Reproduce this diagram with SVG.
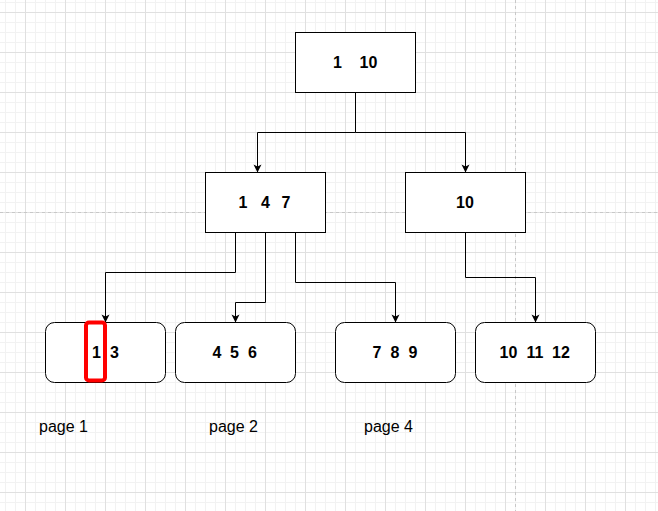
<svg xmlns="http://www.w3.org/2000/svg" width="658" height="511" viewBox="0 0 658 511">
<style>
.node{fill:#ffffff;stroke:#000000;stroke-width:1}
.t{font-family:"Liberation Sans",Arial,Helvetica,sans-serif;font-size:16px;font-weight:bold;fill:#000000;text-anchor:middle}
.lbl{font-family:"Liberation Sans",Arial,Helvetica,sans-serif;font-size:16px;fill:#000000}
.edge{fill:none;stroke:#000000;stroke-width:1}
.page{stroke:#c8c8c8;stroke-width:1;stroke-dasharray:3 3;fill:none}
</style>
<defs>
<pattern id="minor" patternUnits="userSpaceOnUse" x="5" y="2" width="10" height="10">
<path d="M0.5 0V10M0 0.5H10" stroke="#f2f2f2" stroke-width="1" fill="none"/>
</pattern>
<pattern id="major" patternUnits="userSpaceOnUse" x="25" y="12" width="40" height="40">
<path d="M0.5 0V40M0 0.5H40" stroke="#e0e0e0" stroke-width="1" fill="none"/>
</pattern>
<marker id="arr" markerUnits="userSpaceOnUse" markerWidth="10" markerHeight="10" viewBox="0 0 10 10" refX="9" refY="5" orient="auto">
<path d="M1,1 L9,5 L1,9 L3,5 z" fill="#000000"/>
</marker>
</defs>
<rect width="658" height="511" fill="#ffffff"/>
<rect width="658" height="511" fill="url(#minor)"/>
<rect width="658" height="511" fill="url(#major)"/>
<path class="page" d="M0 212.5H658M515.5 0V511"/>
<g id="connectors">
<path class="edge" d="M355.5 92.5V132.5H257.5V172.5" marker-end="url(#arr)"/>
<path class="edge" d="M355.5 132.5H465.5V172.5" marker-end="url(#arr)"/>
<path class="edge" d="M235.5 232.5V272.5H105.5V322.5" marker-end="url(#arr)"/>
<path class="edge" d="M265.5 232.5V302.5H235.5V322.5" marker-end="url(#arr)"/>
<path class="edge" d="M295.5 232.5V282.5H395.5V322.5" marker-end="url(#arr)"/>
<path class="edge" d="M465.5 232.5V277.5H535.5V322.5" marker-end="url(#arr)"/>
</g>
<g id="root">
<rect class="node" x="295.5" y="32.5" width="120" height="60"/>
<text class="t" y="68"><tspan x="337.5">1</tspan><tspan x="368.5">10</tspan></text>
</g>
<g id="mid-left">
<rect class="node" x="205.5" y="172.5" width="120" height="60"/>
<text class="t" y="208"><tspan x="243">1</tspan><tspan x="265.5">4</tspan><tspan x="286">7</tspan></text>
</g>
<g id="mid-right">
<rect class="node" x="405.5" y="172.5" width="120" height="60"/>
<text class="t" y="208"><tspan x="465">10</tspan></text>
</g>
<g id="leaf1">
<rect class="node" x="45.5" y="322.5" width="120" height="60" rx="9"/>
<text class="t" y="358"><tspan x="96.5">1</tspan><tspan x="114.5">3</tspan></text>
<rect x="86" y="322.5" width="19" height="58" rx="3" fill="none" stroke="#ff0000" stroke-width="4"/>
</g>
<g id="leaf2">
<rect class="node" x="175.5" y="322.5" width="120" height="60" rx="9"/>
<text class="t" y="358"><tspan x="217">4</tspan><tspan x="234.5">5</tspan><tspan x="252.5">6</tspan></text>
</g>
<g id="leaf3">
<rect class="node" x="335.5" y="322.5" width="120" height="60" rx="9"/>
<text class="t" y="358"><tspan x="377">7</tspan><tspan x="395">8</tspan><tspan x="413">9</tspan></text>
</g>
<g id="leaf4">
<rect class="node" x="475.5" y="322.5" width="120" height="60" rx="9"/>
<text class="t" y="358"><tspan x="508.5">10</tspan><tspan x="535">11</tspan><tspan x="561">12</tspan></text>
</g>
<g id="labels">
<text class="lbl" x="39" y="432">page 1</text>
<text class="lbl" x="209" y="432">page 2</text>
<text class="lbl" x="364" y="432">page 4</text>
</g>
</svg>
